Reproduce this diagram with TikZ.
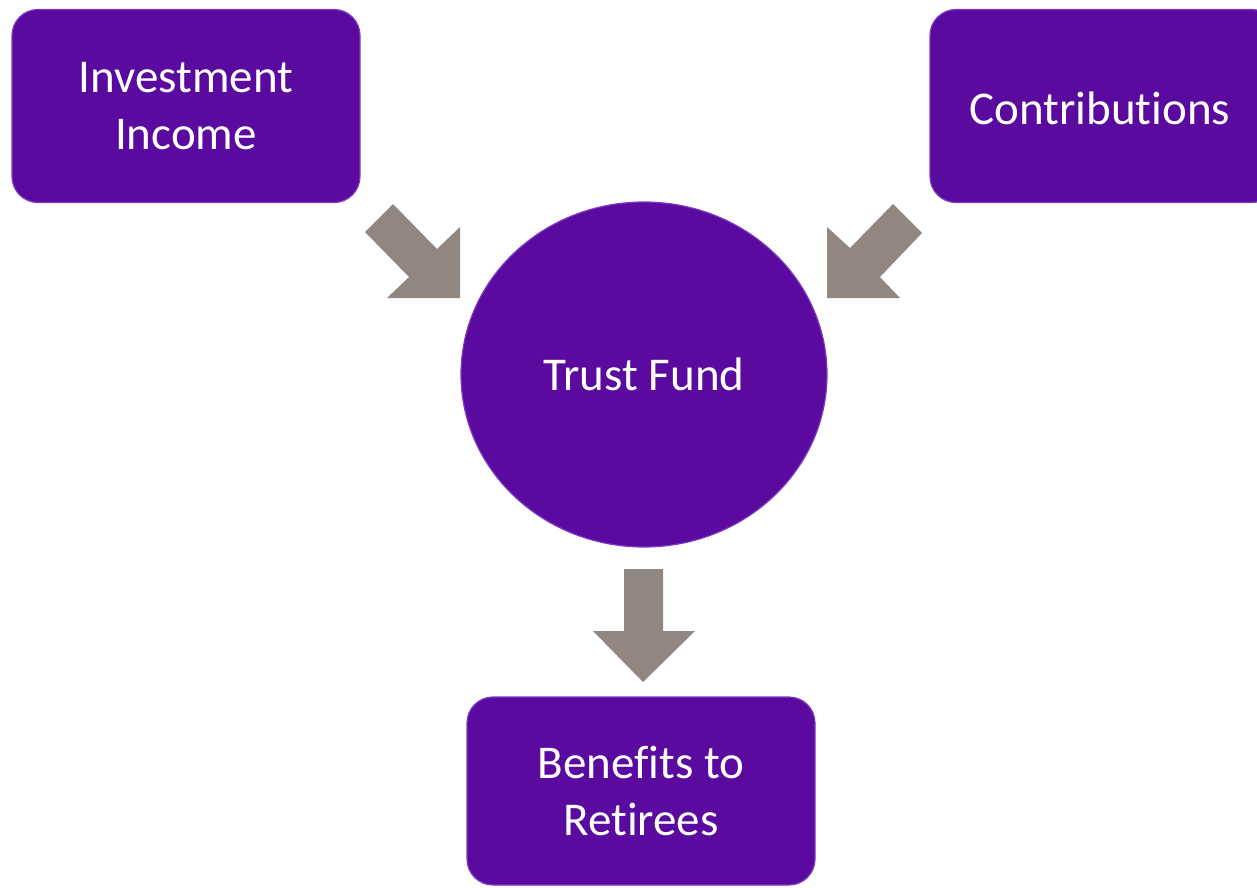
\documentclass[tikz,border=0pt]{standalone}
\usepackage{fontspec}
\setmainfont[Ligatures=NoCommon]{Carlito}
\usetikzlibrary{shapes.geometric}
\definecolor{fundpurple}{HTML}{5A0A9E}
\definecolor{rimpurple}{HTML}{7A3AC4}
\definecolor{flowgray}{HTML}{918780}
\begin{document}
\begin{tikzpicture}[x=1pt,y=-1pt,
  label font/.style={text=white, font=\fontsize{47}{57}\selectfont},
  box/.style={rectangle, rounded corners=26pt, fill=fundpurple, draw=rimpurple,
    line width=1.2pt, minimum width=348pt, minimum height=193pt,
    align=center, label font},
  fund/.style={ellipse, fill=fundpurple, draw=rimpurple, line width=1.2pt,
    minimum width=366pt, minimum height=345pt, inner sep=0pt, label font},
  flow/.style={fill=flowgray, draw=none}]
\useasboundingbox (0,0) rectangle (1257,887);
\begin{scope}
\clip (0,0) rectangle (1257,887);
% source and destination boxes
\node[box] (income) at (186,106) {Investment\\Income};
\node[box] (contrib) at (1104,106) {};
\node[label font] (contribtext) at (1100,108) {Contributions};
\node[box, minimum height=188pt] (benefits) at (641,791) {Benefits to\\Retirees};
% the fund itself
\node[fund] (fund) at (644,374.5) {Trust Fund};
\end{scope}
% block arrows feeding the fund and paying out of it
\fill[flow] (393,204) -- (437,249) -- (460,227) -- (460,298) -- (387,298)
  -- (409,277) -- (365,232) -- cycle;
\fill[flow] (893,204) -- (850,248) -- (827,227) -- (827,298) -- (900,298)
  -- (880,277) -- (922,233) -- cycle;
\fill[flow] (624,569) -- (663,569) -- (663,631) -- (695,631) -- (643,682)
  -- (593,631) -- (624,631) -- cycle;
\end{tikzpicture}
\end{document}
